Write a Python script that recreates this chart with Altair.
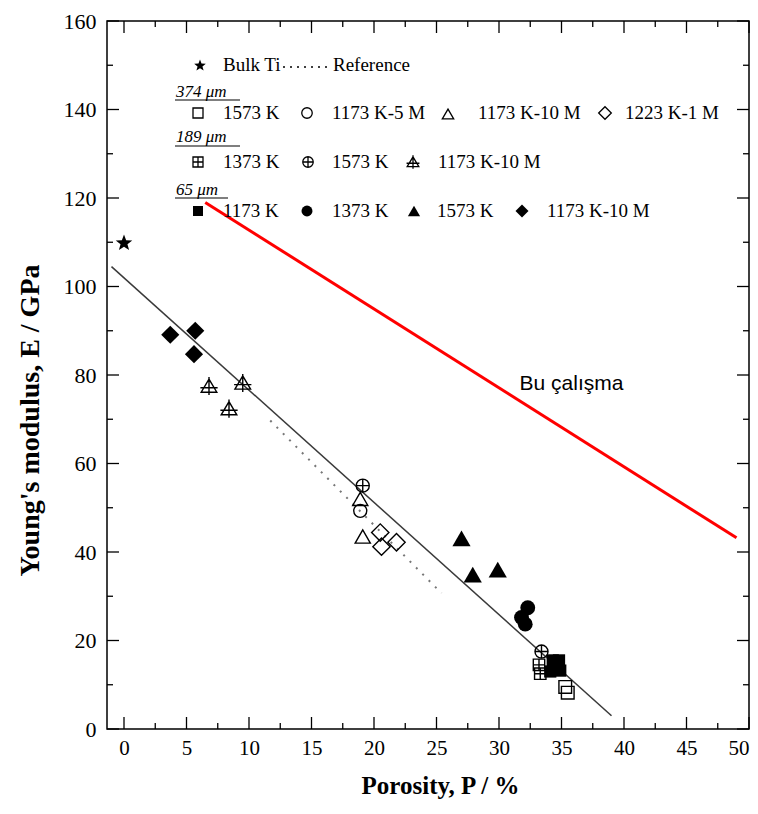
import math
import altair as alt
import pandas as pd

# ---------------- data ----------------
x_ticks = [0, 5, 10, 15, 20, 25, 30, 35, 40, 45, 50]
x_minor = [2.5, 7.5, 12.5, 17.5, 22.5, 27.5, 32.5, 37.5, 42.5, 47.5]
y_ticks = [0, 20, 40, 60, 80, 100, 120, 140, 160]
y_minor = [10, 30, 50, 70, 90, 110, 130, 150]

bulk_P = [0.0]
bulk_E = [110.0]

# 374 um
sq374_1573_P = [35.3, 35.5]
sq374_1573_E = [9.5, 8.2]
ci374_1173_5M_P = [18.9]
ci374_1173_5M_E = [49.3]
tr374_1173_10M_P = [18.9, 19.1]
tr374_1173_10M_E = [52.0, 43.5]
di374_1223_1M_P = [20.5, 20.6, 21.8]
di374_1223_1M_E = [44.4, 41.2, 42.2]

# 189 um
sx189_1373_P = [33.2, 33.3]
sx189_1373_E = [14.5, 12.5]
cx189_1573_P = [19.1, 33.4]
cx189_1573_E = [55.0, 17.5]
tx189_1173_10M_P = [6.8, 8.4, 9.5]
tx189_1173_10M_E = [77.5, 72.4, 78.2]

# 65 um
fs65_1173_P = [34.3, 34.8, 34.5, 34.9, 34.1]
fs65_1173_E = [15.5, 15.5, 13.8, 13.2, 13.0]
fc65_1373_P = [32.3, 31.8, 32.1]
fc65_1373_E = [27.4, 25.2, 23.7]
ft65_1573_P = [27.0, 27.9, 29.9]
ft65_1573_E = [43.1, 34.9, 36.0]
fd65_1173_10M_P = [3.7, 5.7, 5.6]
fd65_1173_10M_E = [89.1, 90.0, 84.7]

fit_P = [-1.0, 39.0]
fit_E = [104.5, 3.0]
ref_P = [11.7, 25.4]
ref_E = [69.7, 30.7]
red_P = [6.5, 49.0]
red_E = [119.0, 43.2]

label_text = "Bu çalışma"
label_P = [35.8]
label_E = [78.0]

legend_headers = ["374 μm", "189 μm", "65 μm"]
legend_row1 = ["1573 K", "1173 K-5 M", "1173 K-10 M", "1223 K-1 M"]
legend_row2 = ["1373 K", "1573 K", "1173 K-10 M"]
legend_row3 = ["1173 K", "1373 K", "1573 K", "1173 K-10 M"]

# ---------------- styles ----------------
SQX = "M-1,-1H1V1H-1Z M0,-1V1 M-1,0H1"
CIX = "M1,0A1,1,0,1,1,-1,0A1,1,0,1,1,1,0Z M-1,0H1 M0,-1V1"
TRX = "M0,-0.85L0.95,0.75H-0.95Z M-1.05,0.2H1.05 M0,-1.1V1.1"
_pts = []
for k in range(10):
    r = 1.0 if k % 2 == 0 else 0.42
    a = math.radians(-90 + 36 * k)
    _pts.append(f"{r * math.cos(a):.3f},{r * math.sin(a) + 0.1:.3f}")
STAR = "M" + "L".join(_pts) + "Z"

series = [
    # key, P, E, shape, size, filled
    ("bulk", bulk_P, bulk_E, STAR, 300, True),
    ("sq374", sq374_1573_P, sq374_1573_E, "square", 160, False),
    ("ci374", ci374_1173_5M_P, ci374_1173_5M_E, "circle", 170, False),
    ("tr374", tr374_1173_10M_P, tr374_1173_10M_E, "triangle-up", 230, False),
    ("di374", di374_1223_1M_P, di374_1223_1M_E, "diamond", 300, False),
    ("sx189", sx189_1373_P, sx189_1373_E, SQX, 130, False),
    ("cx189", cx189_1573_P, cx189_1573_E, CIX, 170, False),
    ("tx189", tx189_1173_10M_P, tx189_1173_10M_E, TRX, 270, False),
    ("fs65", fs65_1173_P, fs65_1173_E, "square", 150, True),
    ("fc65", fc65_1373_P, fc65_1373_E, "circle", 220, True),
    ("ft65", ft65_1573_P, ft65_1573_E, "triangle-up", 330, True),
    ("fd65", fd65_1173_10M_P, fd65_1173_10M_E, "diamond", 330, True),
]

TOP = 13
W, H = 642, 721 - TOP
XMIN, XMAX = -1.36, 50.0
YMIN, YMAX = 0.0, 160.0
xscale = alt.Scale(domain=[XMIN, XMAX], nice=False, zero=False)
yscale = alt.Scale(domain=[YMIN, YMAX], nice=False, zero=False)
SERIF = "Liberation Serif"

AX_X = alt.Axis(
    values=x_ticks, ticks=False, domain=False, grid=False, labelFlush=True,
    labelFont=SERIF, labelFontSize=21, labelColor="black", labelPadding=8,
    title="Porosity, P / %", titleFont=SERIF, titleFontSize=25,
    titleFontWeight="bold", titleColor="black",
    titleX=333, titleY=56, titleAlign="center", titleBaseline="middle")
AX_Y = alt.Axis(
    values=y_ticks, ticks=False, domain=False, grid=False, labelFlush=False,
    labelFont=SERIF, labelFontSize=22, labelColor="black", labelPadding=11,
    title="Young's modulus, E / GPa", titleFont=SERIF, titleFontSize=28,
    titleFontWeight="bold", titleColor="black",
    titleX=-77, titleY=412 - TOP, titleAlign="center", titleBaseline="middle")


def px_P(px):
    return XMIN + px / W * (XMAX - XMIN)


def px_E(py):
    # py: pixel offset from the reference frame top (page y = 15 + py)
    return YMAX - (py + 15 - 8 - TOP) / H * (YMAX - YMIN)


X = lambda f="P": alt.X(f"{f}:Q", scale=xscale, axis=AX_X)
Y = lambda f="E": alt.Y(f"{f}:Q", scale=yscale, axis=AX_Y)

layers = []

fit_df = pd.DataFrame({"P": fit_P, "E": fit_E})
layers.append(alt.Chart(fit_df).mark_line(color="#3a3a3a", strokeWidth=1.5).encode(x=X(), y=Y()))
ref_df = pd.DataFrame({"P": ref_P, "E": ref_E})
layers.append(alt.Chart(ref_df).mark_line(color="#777777", strokeWidth=2, strokeDash=[2, 7]).encode(x=X(), y=Y()))
red_df = pd.DataFrame({"P": red_P, "E": red_E})
layers.append(alt.Chart(red_df).mark_line(color="#ff0000", strokeWidth=3).encode(x=X(), y=Y()))

# inward ticks on all four sides
for vals, L in ((x_ticks, 12), (x_minor, 6)):
    tdf = pd.DataFrame({"P": vals})
    layers.append(alt.Chart(tdf).mark_rule(color="black", strokeWidth=1.3).encode(
        x=X(), y=alt.value(H), y2=alt.value(H - L)))
    layers.append(alt.Chart(tdf).mark_rule(color="black", strokeWidth=1.3).encode(
        x=X(), y=alt.value(0), y2=alt.value(L)))
for vals, L in ((y_ticks, 12), (y_minor, 6)):
    tdf = pd.DataFrame({"E": vals})
    layers.append(alt.Chart(tdf).mark_rule(color="black", strokeWidth=1.3).encode(
        y=Y(), x=alt.value(0), x2=alt.value(L)))
    layers.append(alt.Chart(tdf).mark_rule(color="black", strokeWidth=1.3).encode(
        y=Y(), x=alt.value(W), x2=alt.value(W - L)))

# data points
for key, P, E, shape, size, filled in series:
    df = pd.DataFrame({"P": P, "E": E})
    if filled:
        mk = alt.Chart(df).mark_point(shape=shape, size=size, filled=True, color="black", opacity=1)
    else:
        mk = alt.Chart(df).mark_point(shape=shape, size=size, filled=False, color="black",
                                      strokeWidth=1.4, opacity=1)
    layers.append(mk.encode(x=X(), y=Y()))

# annotation
ann_df = pd.DataFrame({"P": label_P, "E": label_E, "t": [label_text]})
layers.append(alt.Chart(ann_df).mark_text(font="Liberation Sans", fontSize=21, color="black",
                                          align="center", baseline="middle").encode(
    x=X(), y=Y(), text="t:N"))

# ---------------- legend (layout in plot pixels) ----------------
leg_sym = [
    # (px, py, shape, size, filled)
    (93, 50, STAR, 150, True),
    (91, 98, "square", 100, False), (200, 98, "circle", 110, False),
    (341, 99, "triangle-up", 130, False), (498, 98, "diamond", 160, False),
    (91, 147, SQX, 100, False), (201, 147, CIX, 110, False), (306, 147, TRX, 150, False),
    (91, 196, "square", 100, True), (200, 196, "circle", 120, True),
    (307, 196, "triangle-up", 150, True), (415, 196, "diamond", 170, True),
]
for px, py, shape, size, filled in leg_sym:
    df = pd.DataFrame({"P": [px_P(px)], "E": [px_E(py)]})
    if filled:
        mk = alt.Chart(df).mark_point(shape=shape, size=size, filled=True, color="black", opacity=1)
    else:
        mk = alt.Chart(df).mark_point(shape=shape, size=size, filled=False, color="black",
                                      strokeWidth=1.3, opacity=1)
    layers.append(mk.encode(x=X(), y=Y()))

leg_text_pos = (
    [(116, 50, "Bulk Ti"), (226, 50, "Reference")]
    + list(zip([116, 225, 371, 518], [98] * 4, legend_row1))
    + list(zip([116, 225, 331], [147] * 3, legend_row2))
    + list(zip([116, 225, 330, 440], [196] * 4, legend_row3))
)
lt_df = pd.DataFrame({
    "P": [px_P(p[0]) for p in leg_text_pos],
    "E": [px_E(p[1]) for p in leg_text_pos],
    "t": [p[2] for p in leg_text_pos],
})
layers.append(alt.Chart(lt_df).mark_text(font=SERIF, fontSize=19, color="black", align="left",
                                         baseline="middle").encode(x=X(), y=Y(), text="t:N"))

hd_df = pd.DataFrame({
    "P": [px_P(69)] * 3,
    "E": [px_E(77), px_E(122), px_E(175)],
    "t": legend_headers,
})
layers.append(alt.Chart(hd_df).mark_text(font=SERIF, fontSize=17, fontStyle="italic", color="black",
                                         align="left", baseline="middle").encode(x=X(), y=Y(), text="t:N"))
ul_df = pd.DataFrame({
    "P": [px_P(68)] * 3,
    "P2": [px_P(133), px_P(133), px_P(121)],
    "E": [px_E(85), px_E(131), px_E(183)],
})
layers.append(alt.Chart(ul_df).mark_rule(color="black", strokeWidth=1.2).encode(
    x=X(), x2="P2:Q", y=Y()))
dl_df = pd.DataFrame({"P": [px_P(176)], "P2": [px_P(223)], "E": [px_E(52)]})
layers.append(alt.Chart(dl_df).mark_rule(color="black", strokeWidth=1.5, strokeDash=[2, 5]).encode(
    x=X(), x2="P2:Q", y=Y()))

chart = alt.layer(*layers).properties(
    width=W, height=H,
    autosize=alt.AutoSizeParams(type="none"),
    padding={"left": 99, "top": TOP, "right": 1, "bottom": 76},
    background="white",
).configure_view(stroke="black", strokeWidth=1.5)

chart.save("out.html", embed_options={"renderer": "svg", "actions": False})
